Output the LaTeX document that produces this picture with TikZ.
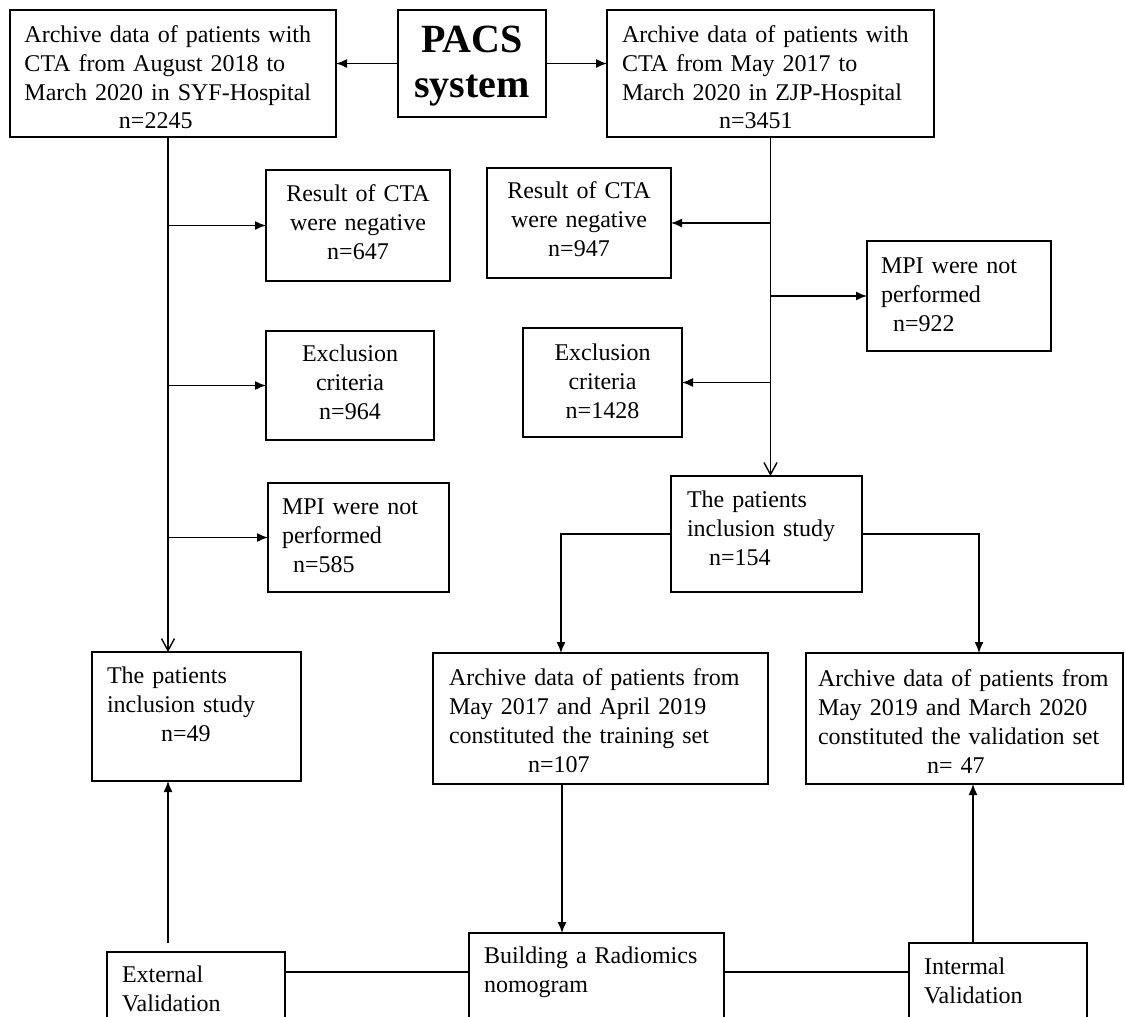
\documentclass[tikz,border=0pt]{standalone}
\usepackage{fontspec}
\setmainfont{Liberation Serif}
\usetikzlibrary{arrows.meta}

\begin{document}
\begin{tikzpicture}[x=0.5pt, y=-0.5pt,
        box/.style={draw, line width=0.9pt, anchor=north west, outer sep=0pt, inner ysep=0pt, align=left, font=\fontsize{12}{14.5}\selectfont},
        dims/.style n args={4}{inner xsep=#1, text width=#2, text height=#3, text depth=#4},
        link/.style={line width=0.7pt},
        arr/.style={link, -{Latex[length=5.5pt,width=4.5pt]}},
        vee/.style={link, -{Straight Barb[length=6pt,width=6.5pt]}}]
        \clip (0,0) rectangle (1125,1017);
        % sources
        \node[box, align=center, dims={2pt}{70pt}{21.5pt}{32pt}, font=\bfseries\fontsize{20}{22}\selectfont] (pacs) at (398,10) {PACS\\system};
        \node[box, dims={7.25pt}{148.5pt}{16pt}{47.5pt}] (syf) at (10,10) {Archive data of patients with\\CTA from August 2018 to\\March 2020 in SYF-Hospital\\\hspace*{47.25pt}n=2245};
        \node[box, dims={7.5pt}{148.5pt}{16pt}{47.5pt}] (zjp) at (607,10) {Archive data of patients with\\CTA from May 2017 to\\March 2020 in ZJP-Hospital\\\hspace*{48.5pt}n=3451};
        % left branch
        \node[box, align=center, dims={2.5pt}{87pt}{15.5pt}{40pt}] (negA) at (266,170) {Result of CTA\\were negative\\n=647};
        \node[box, align=center, dims={2.5pt}{79pt}{15pt}{39.5pt}] (exclA) at (266,331) {Exclusion\\criteria\\n=964};
        \node[box, dims={7pt}{76.5pt}{15.5pt}{39pt}] (mpiA) at (268,483) {MPI were not\\performed\\\hspace*{5.5pt}n=585};
        \node[box, dims={7.5pt}{89.5pt}{15.5pt}{49pt}] (inclA) at (92,652) {The patients\\inclusion study\\\hspace*{27pt}n=49};
        % right branch
        \node[box, align=center, dims={2.5pt}{87pt}{15pt}{40pt}] (negB) at (487,168) {Result of CTA\\were negative\\n=947};
        \node[box, align=center, dims={2.5pt}{74.5pt}{16pt}{38.5pt}] (exclB) at (523,328) {Exclusion\\criteria\\n=1428};
        \node[box, dims={7pt}{78pt}{16pt}{39pt}] (mpiB) at (867,241) {MPI were not\\performed\\\hspace*{6pt}n=922};
        \node[box, dims={8pt}{79.5pt}{15.5pt}{42.5pt}] (inclB) at (671,476) {The patients\\inclusion study\\\hspace*{11pt}n=154};
        \node[box, dims={8pt}{151.5pt}{16pt}{49.5pt}] (train) at (433,653) {Archive data of patients from\\May 2017 and April 2019\\constituted the training set\\\hspace*{39.5pt}n=107};
        \node[box, dims={6pt}{146.5pt}{16.5pt}{49pt}] (valid) at (806,653) {Archive data of patients from\\May 2019 and March 2020\\constituted the validation set\\\hspace*{54.5pt}n= 47};
        % bottom row
        \node[box, dims={7.5pt}{74pt}{15pt}{30pt}] (extval) at (107,952) {External\\Validation};
        \node[box, dims={7.5pt}{112.5pt}{15pt}{35pt}] (build) at (469,933) {Building a Radiomics\\nomogram};
        \node[box, dims={7.5pt}{74pt}{15.5pt}{29.5pt}] (intval) at (909,943) {Intermal\\Validation};

        \coordinate (trunkA) at (168,137);
        \coordinate (trainIn) at (561,653);
        \coordinate (validIn) at (979,653);
        \coordinate (trainOut) at (562,784);
        \coordinate (extUp) at (168,943);
        \coordinate (intUp) at (973,943);
        \coordinate (hline) at (0,972);

        \draw[arr] (pacs.west) -- (pacs.west -| syf.east);
        \draw[arr] (pacs.east) -- (pacs.east -| zjp.west);

        \draw[vee] (trunkA) -- (trunkA |- inclA.north);
        \draw[arr] (trunkA |- negA.west) -- (negA.west);
        \draw[arr] (trunkA |- exclA.west) -- (exclA.west);
        \draw[arr] (trunkA |- mpiA.west) -- (mpiA.west);

        \draw[vee] (zjp.south) -- (zjp.south |- inclB.north);
        \draw[arr] (zjp.south |- negB.east) -- (negB.east);
        \draw[arr] (zjp.south |- mpiB.west) -- (mpiB.west);
        \draw[arr] (zjp.south |- exclB.east) -- (exclB.east);

        \draw[arr] (inclB.west) -| (trainIn);
        \draw[arr] (inclB.east) -| (validIn);
        \draw[arr] (trainOut) -- (trainOut |- build.north);
        \draw[arr] (extUp) -- (extUp |- inclA.south);
        \draw[arr] (intUp) -- (intUp |- valid.south);
        \draw[link] (hline -| extval.east) -- (hline -| build.west);
        \draw[link] (hline -| build.east) -- (hline -| intval.west);
    \end{tikzpicture}
\end{document}
